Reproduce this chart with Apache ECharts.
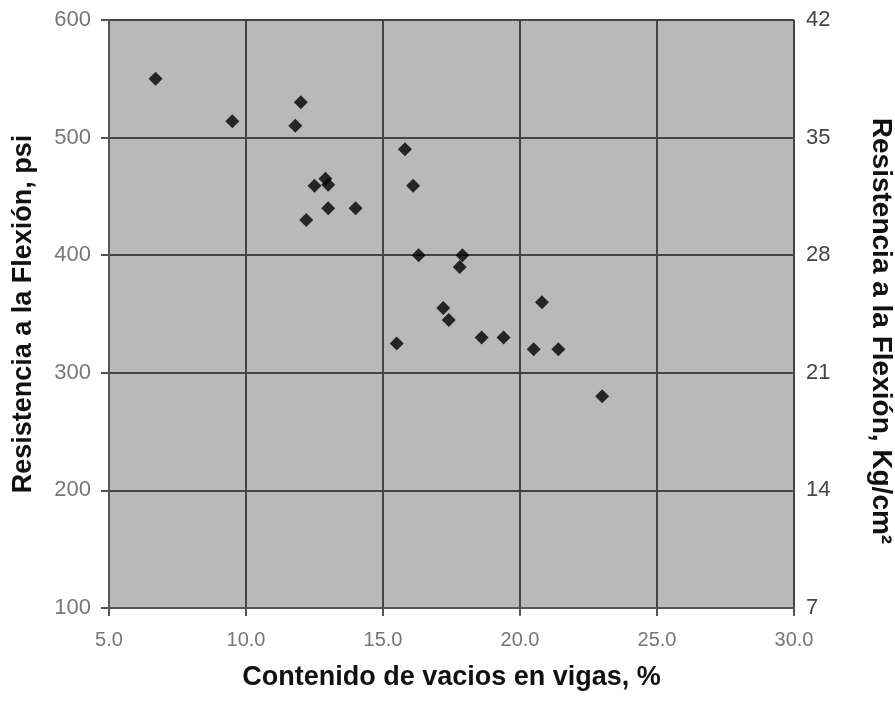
<!DOCTYPE html>
<html>
<head>
<meta charset="utf-8">
<script src="https://cdn.jsdelivr.net/npm/echarts@6/dist/echarts.min.js"></script>
<style>
html,body{margin:0;padding:0;background:#fff;}
#chart{width:895px;height:704px;}
</style>
</head>
<body>
<div id="chart"></div>
<script>
// Data
const voids = [6.7, 9.5, 12.0, 11.8, 12.9, 12.5, 13.0, 13.0, 14.0, 12.2, 15.8, 16.1, 16.3, 17.9, 17.8, 17.2, 17.4, 15.5, 18.6, 19.4, 20.8, 20.5, 21.4, 23.0];
const psi   = [550, 514, 530, 510, 465, 459, 460, 440, 440, 430, 490, 459, 400, 400, 390, 355, 345, 325, 330, 330, 360, 320, 320, 280];

const xTicks = { min: 5, max: 30, step: 5 };
const yLeftTicks = { min: 100, max: 600, step: 100 };
const yRightTicks = { min: 7, max: 42, step: 7 };

const xTitle = 'Contenido de vacios en vigas, %';
const yLeftTitle = 'Resistencia a la Flexión, psi';
const yRightTitle = 'Resistencia a la Flexión, Kg/cm²';

const points = voids.map((v, i) => [v, psi[i]]);
const FONT = 'Liberation Sans, Arial, sans-serif';

const chart = echarts.init(document.getElementById('chart'));
chart.setOption({
  animation: false,
  backgroundColor: '#ffffff',
  grid: {
    left: 109, right: 101, top: 20, bottom: 96,
    outerBoundsMode: 'none', containLabel: false,
    show: true, backgroundColor: '#b9b9b9', borderColor: '#9a9a9a', borderWidth: 1
  },
  xAxis: {
    type: 'value',
    min: xTicks.min, max: xTicks.max, interval: xTicks.step,
    name: xTitle, nameLocation: 'middle', nameGap: 56,
    nameTextStyle: { fontFamily: FONT, fontWeight: 'bold', fontSize: 27, color: '#111' },
    axisLine: { show: true, lineStyle: { color: '#555', width: 2 } },
    axisTick: { show: true, inside: false, length: 8, lineStyle: { color: '#555', width: 2 } },
    axisLabel: { margin: 22, fontFamily: FONT, fontSize: 20, color: '#777',
      formatter: v => v.toFixed(1) },
    splitLine: { show: true, lineStyle: { color: '#444', width: 2 } }
  },
  yAxis: [
    {
      type: 'value', position: 'left',
      min: yLeftTicks.min, max: yLeftTicks.max, interval: yLeftTicks.step,
      name: yLeftTitle, nameLocation: 'middle', nameGap: 72, nameRotate: 90,
      nameTextStyle: { fontFamily: FONT, fontWeight: 'bold', fontSize: 27, color: '#111' },
      axisLine: { show: true, lineStyle: { color: '#555', width: 2 } },
      axisTick: { show: true, inside: false, length: 8, lineStyle: { color: '#555', width: 2 } },
      axisLabel: { margin: 18, fontFamily: FONT, fontSize: 22, color: '#777' },
      splitLine: { show: true, lineStyle: { color: '#444', width: 2 } }
    },
    {
      type: 'value', position: 'right',
      min: yRightTicks.min, max: yRightTicks.max, interval: yRightTicks.step,
      name: yRightTitle, nameLocation: 'middle', nameGap: 73, nameRotate: -90,
      nameTextStyle: { fontFamily: FONT, fontWeight: 'bold', fontSize: 28, color: '#111',
        padding: [0, 0, 0, 34] },
      axisLine: { show: false },
      axisTick: { show: false },
      axisLabel: { margin: 12, fontFamily: FONT, fontSize: 22, color: '#444' },
      splitLine: { show: false }
    }
  ],
  series: [{
    type: 'scatter',
    yAxisIndex: 0,
    symbol: 'diamond',
    symbolSize: 14,
    itemStyle: { color: '#000' },
    data: points
  }]
});
</script>
</body>
</html>
